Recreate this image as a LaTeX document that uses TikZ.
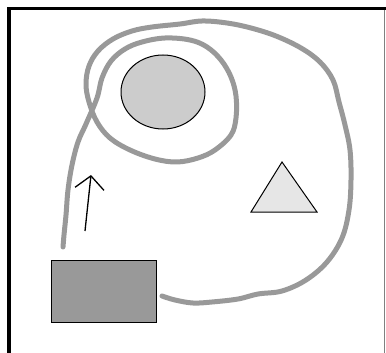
\documentclass[tikz,border=0pt]{standalone}
\usetikzlibrary{arrows.meta,shapes.geometric}
\definecolor{curvegray}{HTML}{999999}
\definecolor{circfill}{HTML}{CCCCCC}
\definecolor{trifill}{HTML}{E6E6E6}
\definecolor{rectfill}{HTML}{999999}
\tikzset{
  shapeline/.style={draw=black, line width=1pt},
  scribble/.style={draw=curvegray, line width=5pt, line cap=round, line join=round},
  framelinestyle/.style={draw=black, line width=3.5pt},
}
\begin{document}
\begin{tikzpicture}[x=1pt,y=-1pt]
\useasboundingbox (0,0) rectangle (386,353);
% frame
\draw[framelinestyle] (9,353) -- (9,8.5) -- (386,8.5);
\draw[draw=gray, line width=1pt] (384.5,10) -- (384.5,353);
% shapes
\node[shapeline, fill=circfill, ellipse, minimum width=84pt, minimum height=74pt, inner sep=0pt] (circ) at (163,92) {};
\draw[shapeline, fill=trifill, line join=miter] (282,162) -- (317,212) -- (251,212) -- cycle;
\draw[shapeline, fill=rectfill] (51,260) rectangle (156,322);
% freehand curve
\draw[scribble] plot[smooth, tension=0.6] coordinates {
  (63,247) (64,235) (66,215) (68,190) (72,165) (78,142) (86,124)
  (97,98) (102,78) (111,61) (125,49) (142,42) (165,38) (190,40) (207,47)
  (221,60) (231,77) (236,96) (236,118) (231,135) (215,150) (198,158)
  (177,162) (155,159) (130,150) (110,138) (97,122) (89,102)
  (86,84) (89,66) (98,51) (113,39) (132,31) (152,27) (180,24) (202,21)
  (227,23) (251,28) (276,36) (301,48) (320,62) (333,80) (339,102)
  (345,125) (350,150) (351,180) (349,210) (342,238) (327,262) (306,280)
  (282,291) (258,294) (238,299) (212,302) (193,303) (175,300) (162,296)
};
% arrow
\coordinate (atail) at (85,231);
\coordinate (atip) at (91,175);
\draw[line width=1.3pt, -{Straight Barb[length=13pt,width=29pt,line width=1.3pt]}] (atail) -- (atip);
\end{tikzpicture}
\end{document}
